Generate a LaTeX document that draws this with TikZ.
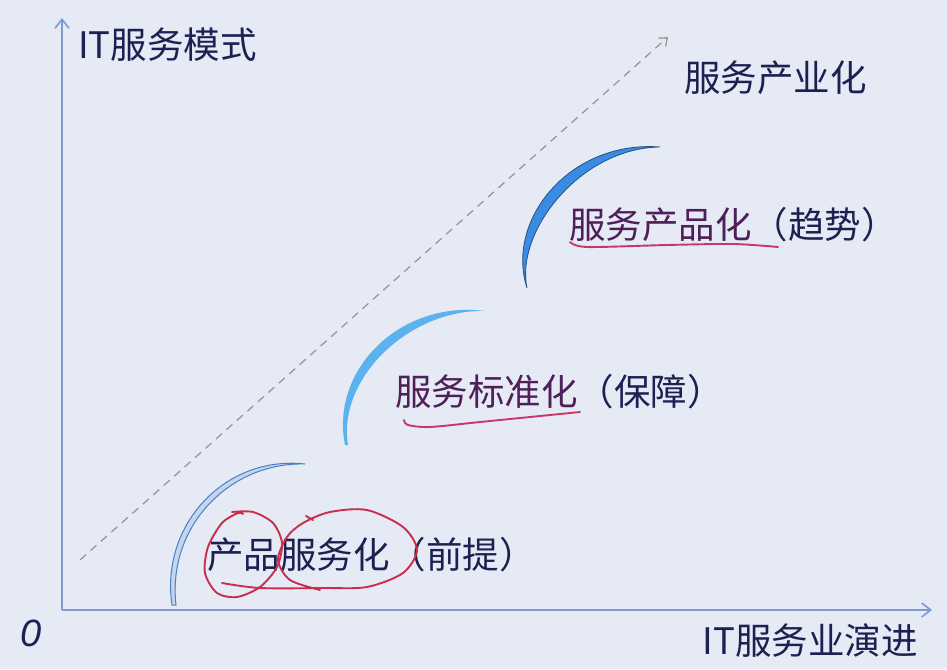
\documentclass[tikz,border=0pt]{standalone}
\usepackage{fontspec}
\setmainfont{Noto Sans CJK SC}
\newfontfamily\zerofont{Liberation Sans}
\usetikzlibrary{arrows.meta}

\definecolor{bgc}{HTML}{E5EAF5}
\definecolor{axisc}{HTML}{7B9BD2}
\definecolor{navy}{HTML}{1C2152}
\definecolor{plum}{HTML}{4E1F58}
\definecolor{penc}{HTML}{C8376A}
\definecolor{redpen}{HTML}{C92E4C}
\definecolor{arcdark}{HTML}{3A8BE2}
\definecolor{arcmid}{HTML}{5CB2EE}
\definecolor{arcline}{HTML}{4A80C8}

\tikzset{
  axis/.style={draw=axisc, line width=1.6pt, -{Straight Barb[length=9pt,width=14pt]}},
  lbl/.style={inner sep=0pt, text=navy, font=\fontsize{36.5}{40}\selectfont},
  pen/.style={draw=penc, line width=1.9pt, line cap=round, line join=round},
}

\begin{document}
\begin{tikzpicture}[x=1pt,y=-1pt]
        \fill[bgc] (0,0) rectangle (947,669);
        \useasboundingbox (0,0) rectangle (947,669);

        \coordinate (O) at (62,610);
        \coordinate (ytop) at (62,18);
        \coordinate (xend) at (932,610);
        \coordinate (dstart) at (80,560);
        \coordinate (dend) at (668,37);

        \draw[axis] (O) -- (ytop);
        \draw[axis] (O) -- (xend);
        \draw[draw=gray!80, line width=1.3pt, dash pattern=on 8pt off 6pt,
              -{Straight Barb[length=7pt,width=11pt]}] (dstart) -- (dend);

        \node[lbl, anchor=center, font=\zerofont\itshape\fontsize{38}{40}\selectfont] (origin) at (31,633) {0};
        \node[lbl, anchor=west] (ylab) at (78,45) {IT服务模式};
        \node[lbl, anchor=east] (xlab) at (918,641) {IT服务业演进};
        \node[lbl, anchor=west] (trend) at (684,78) {服务产业化};

        % crescents
        \filldraw[fill=bgc!80!arcline, draw=arcline, line width=1pt]
          (172,605) .. controls (160,525) and (225,455) .. (305,464)
          .. controls (230,462) and (167,526) .. (176,605) -- cycle;
        \fill[arcmid]
          (345,445) .. controls (330,370) and (400,300) .. (485,311)
          .. controls (410,309) and (337,378) .. (348,445) -- cycle;
        \filldraw[fill=arcdark, draw=arcdark!60!black, line width=0.8pt]
          (527,288) .. controls (505,220) and (570,140) .. (660,147)
          .. controls (580,148) and (515,232) .. (527,288) -- cycle;

        % stages
        \node[lbl, anchor=west] (prod) at (569,225) {\textcolor{plum}{服务产品化}（趋势）};
        \node[lbl, anchor=west] (std) at (395,392) {\textcolor{plum}{服务标准化}（保障）};
        \node[lbl, anchor=west] (pre) at (207,555) {产品服务化（前提）};

        % pen marks
        \draw[pen] plot[smooth] coordinates {(570,242) (587,247) (667,245) (733,244) (778,247)};
        \draw[pen] plot[smooth] coordinates {(404,420) (408,425) (430,427) (480,422) (530,417) (580,412)};
        \draw[pen, draw=redpen] plot[smooth] coordinates {(243,514) (238,513) (222,523) (208,547) (205,573)
          (217,593) (237,597) (260,587) (277,567) (282,543) (273,523) (253,512) (232,512)};
        \draw[pen, draw=redpen] plot[smooth] coordinates {(222,583) (260,588) (323,588) (367,587) (403,573)
          (417,550) (403,527) (367,510) (330,512) (303,523) (287,537) (278,560) (290,580) (320,590)};
        \draw[pen, draw=redpen] (306,516) -- (313,520);
\end{tikzpicture}
\end{document}
